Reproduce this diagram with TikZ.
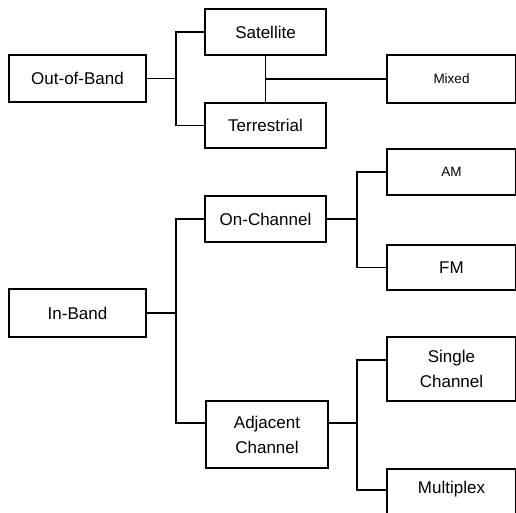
\documentclass[tikz,border=0pt]{standalone}
\usepackage{fontspec}
\setmainfont{Liberation Sans}
\begin{document}
\begin{tikzpicture}[
    x=1pt, y=-1pt,
    every node/.style={font=\fontsize{17}{25}\selectfont},
    boxstyle/.style={rectangle, draw=black, line width=1.6pt, inner sep=0pt,
                     align=center},
    smalltext/.style={font=\fontsize{13.5}{16}\selectfont},
    link/.style={line width=1.5pt}
]
  \clip (0,0) rectangle (516,513);

  % Out-of-Band branch
  \node[boxstyle, minimum width=137pt, minimum height=47pt] (oob) at (77.5, 78.5) {Out-of-Band};
  \node[boxstyle, minimum width=121pt, minimum height=46pt] (sat) at (265.5, 32)  {Satellite};
  \node[boxstyle, minimum width=121pt, minimum height=45pt] (ter) at (265.5, 125.5) {Terrestrial};
  \node[boxstyle, smalltext, minimum width=129pt, minimum height=48pt] (mix) at (451.5, 79) {Mixed};

  % In-Band branch
  \node[boxstyle, minimum width=137pt, minimum height=48pt] (inb) at (77.5, 313) {In-Band};
  \node[boxstyle, minimum width=121pt, minimum height=46pt] (onc) at (265.5, 219) {On-Channel};
  \node[boxstyle, minimum width=122pt, minimum height=67pt] (adj) at (267, 434.5) {Adjacent\\Channel};
  \node[boxstyle, smalltext, minimum width=129pt, minimum height=46pt] (am) at (451.5, 172) {AM};
  \node[boxstyle, minimum width=129pt, minimum height=45pt] (fm)  at (451.5, 267.5) {FM};
  \node[boxstyle, minimum width=129pt, minimum height=64pt] (sgl) at (451.5, 369) {Single\\Channel};
  \node[boxstyle, minimum width=129pt, inner ysep=6pt, text height=19pt, text depth=40pt,
        anchor=north] (mpx) at (451.5, 468) {Multiplex};

  % junctions
  \coordinate (j1) at (176, 78.5);
  \coordinate (j2) at (357, 219);
  \coordinate (j3) at (176, 313);
  \coordinate (j4) at (357, 423);

  % connectors
  \draw[link] (oob.east) -- (j1);
  \draw[link] (sat.west) -| (j1) |- (ter.west);
  \draw[link] (sat.south) -- (ter.north);
  \draw[link] (sat.south |- mix.west) -- (mix.west);

  \draw[link] (inb.east) -- (j3);
  \draw[link] (onc.west) -| (j3) |- ([yshift=11.5pt]adj.west);

  \draw[link] (onc.east) -- (j2);
  \draw[link] (am.west) -| (j2) |- (fm.west);

  \draw[link] ([yshift=11.5pt]adj.east) -- (j4);
  \draw[link] ([yshift=9pt]sgl.west) -| (j4) |- ([yshift=4pt]mpx.base west);

\end{tikzpicture}
\end{document}
